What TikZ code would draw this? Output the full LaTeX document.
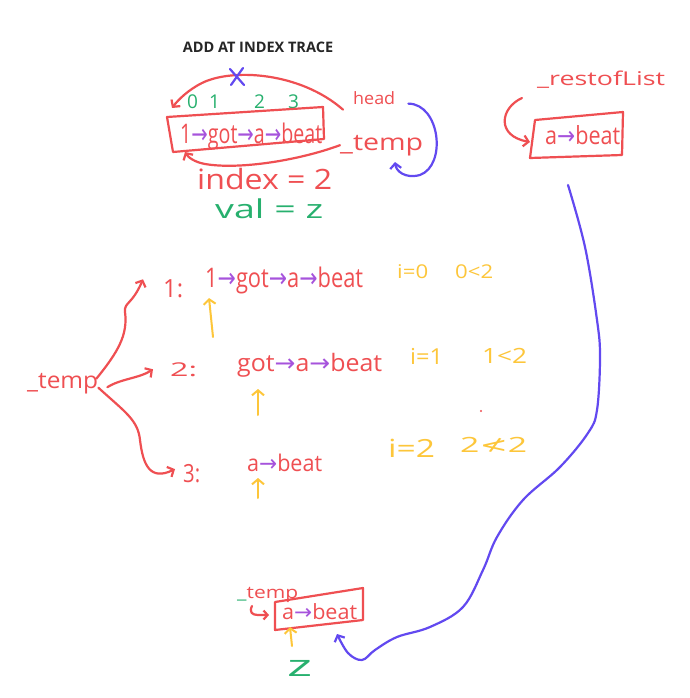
\documentclass[tikz,border=0pt]{standalone}
\usepackage{fontspec}
\setmainfont{Open Sans}
\newfontfamily\symf{DejaVu Sans}
\usetikzlibrary{arrows.meta}
\definecolor{cred}{HTML}{EF4F52}
\definecolor{cgreen}{HTML}{27B06E}
\definecolor{cblue}{HTML}{6249F0}
\definecolor{cviol}{HTML}{A653DC}
\definecolor{cyel}{HTML}{FDC63A}
\newcommand{\pa}{{\color{cviol}\symf →}}
\newcommand{\fitw}[2]{\resizebox{#1}{\height}{#2}}
\tikzset{
  txt/.style={inner sep=0pt, anchor=base west},
  redt/.style={txt, text=cred},
  grnt/.style={txt, text=cgreen},
  yelt/.style={txt, text=cyel},
  ink/.style={line width=2.2pt, line cap=round, line join=round},
  tipr/.style={-{Straight Barb[length=5pt,width=11pt]}},
  tipy/.style={-{Straight Barb[length=5pt,width=12pt]}},
}
\begin{document}
\begin{tikzpicture}[x=1pt,y=-1pt]
\useasboundingbox (0,0) rectangle (689,698);
\fill[white] (0,0) rectangle (689,698);

% title
\node[inner sep=0pt, font=\bfseries\fontsize{14.5}{16}\selectfont, text=black!85] (title) at (258,47) {ADD AT INDEX TRACE};

% ---------- top: the list ----------
\node[grnt, font=\fontsize{19}{20}\selectfont] (n0) at (187,109) {0};
\node[grnt, font=\fontsize{19}{20}\selectfont] (n1) at (209,109) {1};
\node[grnt, font=\fontsize{19}{20}\selectfont] (n2) at (254,109) {2};
\node[grnt, font=\fontsize{19}{20}\selectfont] (n3) at (288,109) {3};

\node[redt, font=\fontsize{27}{28}\selectfont] (toplist) at (180,143) {\fitw{142pt}{1\pa got\pa a\pa beat}};
\draw[ink, cred] (167,117) -- (323,107) -- (324,139) -- (173,152) -- cycle;

\node[redt, font=\fontsize{17}{19}\selectfont] (head) at (353,105) {\fitw{42pt}{head}};
\node[redt, font=\fontsize{23}{24}\selectfont] (tmpTop) at (340,150) {\fitw{83pt}{\_temp}};

\node[redt, font=\fontsize{28}{30}\selectfont] (index) at (197,189) {\fitw{135pt}{index = 2}};
\node[grnt, font=\fontsize{26}{28}\selectfont] (val) at (215,218) {\fitw{108pt}{val = z}};

% head pointer (crossed out)
\coordinate (hs) at ([shift={(-10pt,-11pt)}]head.west);
\draw[ink, cred, tipr] (hs) .. controls (300,72) and (232,68) .. (202,83) .. controls (188,90) and (178,100) .. (172,108);
\draw[ink, cblue] (230,69) -- (244,85) (243,68) -- (231,85);

% temp pointer to start
\draw[ink, cred, tipr] (tmpTop.west) .. controls (300,160) and (240,170) .. (205,164) .. controls (194,162) and (188,157) .. (185,152);

% head -> temp
\coordinate (hb) at ([shift={(13pt,-5pt)}]head.east);
\draw[ink, cblue, tipr] (hb) .. controls (440,104) and (447,165) .. (420,175) .. controls (405,179) and (396,171) .. (395,162);

% ---------- right: rest of list ----------
\node[redt, font=\fontsize{19}{20}\selectfont] (rest) at (537,86) {\fitw{128pt}{\_restofList}};
\node[redt, font=\fontsize{25}{26}\selectfont] (rlist) at (545,144) {\fitw{75pt}{a\pa beat}};
\draw[ink, cred] (535,120) -- (623,112) -- (622,155) -- (530,158) -- cycle;
\draw[ink, cred, tipr] (522,98) .. controls (500,108) and (496,136) .. (530,142);

% ---------- middle: trace ----------
\node[redt, font=\fontsize{23}{26}\selectfont] (tempM) at (27,388) {\fitw{71pt}{\_temp}};

\node[redt, font=\fontsize{25}{26}\selectfont] (r1) at (163,297) {\fitw{20pt}{1:}};
\node[redt, font=\fontsize{27}{28}\selectfont] (l1) at (205,287) {\fitw{158pt}{1\pa got\pa a\pa beat}};
\node[yelt, font=\fontsize{19}{20}\selectfont] (i1) at (397,278) {\fitw{31pt}{i=0}};
\node[yelt, font=\fontsize{19}{20}\selectfont] (c1) at (455,278) {\fitw{38pt}{0<2}};

\node[redt, font=\fontsize{19}{20}\selectfont] (r2) at (170,376) {\fitw{27pt}{2:}};
\node[redt, font=\fontsize{24}{26}\selectfont] (l2) at (237,371) {\fitw{145pt}{got\pa a\pa beat}};
\node[yelt, font=\fontsize{22}{22}\selectfont] (i2) at (410,364) {\fitw{33pt}{i=1}};
\node[yelt, font=\fontsize{21}{22}\selectfont] (c2) at (482,363) {\fitw{45pt}{1<2}};

\node[redt, font=\fontsize{25}{26}\selectfont] (r3) at (183,482) {\fitw{17pt}{3:}};
\node[redt, font=\fontsize{23}{24}\selectfont] (l3) at (247,471) {\fitw{75pt}{a\pa beat}};
\node[yelt, font=\fontsize{25}{26}\selectfont] (i3) at (388,457) {\fitw{47pt}{i=2}};
\node[yelt, font=\fontsize{21}{22}\selectfont] (c3) at (460,452) {\fitw{67pt}{2{\symf ≮}2}};
\fill[cred] (481,411) circle (1.2pt);

% yellow cursors
\coordinate (y1) at (213,337);
\draw[ink, cyel, line width=2pt, tipy] (y1) -- (209,298);
\coordinate (y2) at (258,415);
\draw[ink, cyel, line width=2pt, tipy] (y2) -- (258,389);
\coordinate (y3) at (258,498);
\draw[ink, cyel, line width=2pt, tipy] (y3) -- (258,478);

% temp arrows
\draw[ink, cred, tipr] ([xshift=-2pt, yshift=-6pt]tempM.north east) .. controls (118,352) and (128,335) .. (125,312) .. controls (124,302) and (132,305) .. ([xshift=-20pt, yshift=9pt]r1.west);
\draw[ink, cred, tipr] ([xshift=9pt, yshift=-4pt]tempM.east) .. controls (120,379) and (140,378) .. ([xshift=-17pt]r2.west);
\draw[ink, cred, tipr] ([yshift=6pt]tempM.south east) .. controls (125,412) and (138,420) .. (140,440) .. controls (143,465) and (150,481) .. ([xshift=-8pt, yshift=4pt]r3.west);

% ---------- bottom ----------
\node[txt, text=cred, font=\fontsize{17}{18}\selectfont] (tmpB) at (237,598) {\fitw{61pt}{{\color{cgreen}\_}temp}};
\node[redt, font=\fontsize{21}{22}\selectfont] (blist) at (282,619) {\fitw{75pt}{a\pa beat}};
\draw[ink, cred] (275,602) -- (363,588) -- (363,620) -- (275,630) -- cycle;
\coordinate (hk) at (252,606);
\draw[ink, cred, -{Straight Barb[length=4pt,width=9pt]}] (hk) .. controls (249,612) and (252,615) .. (258,615) -- (269,615);
\node[grnt, font=\fontsize{30}{30}\selectfont] (z) at (287,676) {\fitw{25pt}{z}};
\coordinate (yb) at (292,646);
\draw[ink, cyel, line width=2pt, tipy] (yb) -- (290,627);

% long blue pointer: rest of list -> new node
\draw[ink, cblue, tipr] plot[smooth, tension=0.6] coordinates {(568,185) (585,247) (597,320) (600,357) (597,410) (588,433) (560,467) (523,500) (497,537) (483,570) (463,607) (430,627) (397,637) (375,650) (362,660) (348,653) (337,634)};
\end{tikzpicture}
\end{document}
